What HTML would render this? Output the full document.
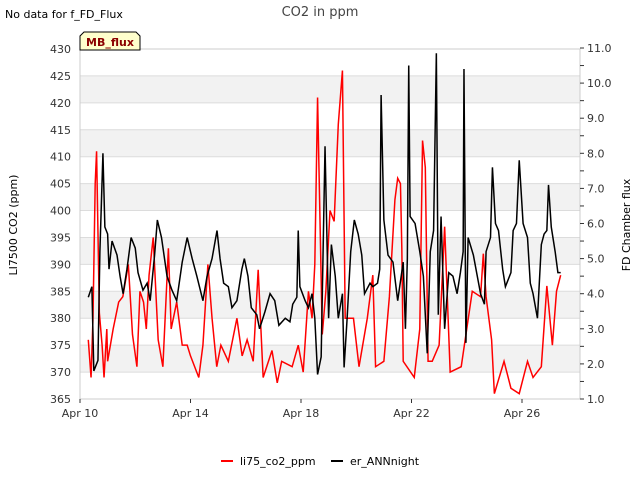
<!DOCTYPE html>
<html><head><meta charset="utf-8"><style>
body{margin:0;background:#fff;font-family:"DejaVu Sans","Liberation Sans",sans-serif;}
svg text{font-family:"DejaVu Sans","Liberation Sans",sans-serif;}
</style></head><body>
<svg id="chart" width="640" height="480" xmlns="http://www.w3.org/2000/svg">
<g id="bands"></g>
<g id="axes"></g>
<g id="series"></g>
<text x="5" y="18" font-size="11" fill="#000">No data for f_FD_Flux</text>
<text x="320" y="16" font-size="13" fill="#444" text-anchor="middle">CO2 in ppm</text>
<g>
<polygon points="80,50 80,36 84,32 136,32 140,36 140,50" fill="#ffffcc" stroke="#000" stroke-width="1"/>
<text x="110" y="46" font-size="11" font-weight="bold" fill="#8b0000" text-anchor="middle">MB_flux</text>
</g>
<text transform="translate(17,225) rotate(-90)" font-size="11" text-anchor="middle">LI7500 CO2 (ppm)</text>
<text transform="translate(630,225) rotate(-90)" font-size="11" text-anchor="middle">FD Chamber flux</text>
<g>
<g><line x1="221" y1="461" x2="233" y2="461" stroke="#ff0000" stroke-width="2"/><text x="240" y="465" font-size="11">li75_co2_ppm</text></g>
<g><line x1="331" y1="461" x2="343" y2="461" stroke="#000" stroke-width="2"/><text x="350" y="465" font-size="11">er_ANNnight</text></g>
</g>
</svg>
<script>
const xTickLabels=["Apr 10","Apr 14","Apr 18","Apr 22","Apr 26"];
const xTickDays=[10,14,18,22,26];
const leftTicks=[365,370,375,380,385,390,395,400,405,410,415,420,425,430];
const rightTicks=[1,2,3,4,5,6,7,8,9,10,11];
const redDays=[10.3,10.4,10.47,10.55,10.6,10.7,10.8,10.87,10.97,11.0,11.2,11.4,11.55,11.75,11.9,12.06,12.17,12.3,12.4,12.5,12.65,12.83,13.0,13.2,13.3,13.5,13.7,13.88,14.0,14.3,14.45,14.63,14.78,14.95,15.1,15.37,15.68,15.87,16.05,16.27,16.45,16.63,16.95,17.14,17.3,17.68,17.9,18.08,18.27,18.4,18.5,18.6,18.77,18.9,19.05,19.2,19.35,19.5,19.6,19.9,20.1,20.4,20.6,20.7,21.0,21.2,21.4,21.5,21.6,21.65,21.7,22.1,22.3,22.4,22.5,22.6,22.75,23.0,23.2,23.4,23.8,24.0,24.2,24.5,24.6,24.7,24.9,25.0,25.35,25.6,25.9,26.2,26.4,26.7,26.9,27.1,27.25,27.4];
const redVals=[376,369,380,405,411,381,375,369,378,372,378,383,384,390,377,371,385,383,378,388,395,376,371,393,378,383,375,375,373,369,375,390,380,371,375,372,380,373,376,372,389,369,374,368,372,371,375,370,385,380,390,421,377,385,400,398,416,426,380,380,371,380,388,371,372,384,402,406,405,393,372,369,378,413,408,372,372,375,397,370,371,378,385,384,392,384,376,366,372,367,366,372,369,371,386,375,385,388];
const blackDays=[10.3,10.43,10.5,10.65,10.72,10.83,10.9,11.0,11.05,11.16,11.34,11.45,11.56,11.7,11.85,12.0,12.1,12.28,12.43,12.54,12.7,12.8,12.95,13.15,13.33,13.5,13.7,13.88,14.06,14.23,14.45,14.6,14.78,14.96,15.07,15.2,15.37,15.5,15.68,15.86,15.95,16.08,16.2,16.4,16.5,16.7,16.88,17.05,17.2,17.43,17.6,17.7,17.85,17.9,17.96,18.15,18.27,18.4,18.5,18.6,18.73,18.87,19.0,19.1,19.24,19.35,19.5,19.56,19.67,19.8,19.93,20.07,20.2,20.3,20.5,20.6,20.77,20.85,20.9,21.0,21.15,21.33,21.5,21.7,21.78,21.85,21.9,21.95,22.13,22.3,22.43,22.57,22.68,22.8,22.9,22.97,23.07,23.2,23.35,23.5,23.65,23.77,23.87,23.9,23.97,24.05,24.24,24.5,24.64,24.7,24.86,24.93,25.04,25.15,25.3,25.4,25.6,25.68,25.8,25.9,26.04,26.2,26.3,26.4,26.56,26.7,26.8,26.9,26.96,27.06,27.2,27.3,27.4];
const blackVals=[3.9,4.2,1.8,2.1,5.2,8.0,5.9,5.7,4.7,5.5,5.1,4.5,4.0,4.7,5.6,5.3,4.6,4.1,4.3,3.8,5.1,6.1,5.6,4.5,4.1,3.8,4.9,5.6,5.0,4.5,3.8,4.5,5.0,5.8,5.0,4.3,4.2,3.6,3.8,4.7,5.0,4.5,3.6,3.4,3.0,3.5,4.0,3.8,3.1,3.3,3.2,3.7,3.9,5.8,4.2,3.8,3.6,4.0,3.3,1.7,2.2,8.2,3.3,5.4,4.5,3.3,4.0,1.9,3.3,5.2,6.1,5.7,5.1,4.0,4.3,4.2,4.3,4.7,9.66,6.1,5.1,4.9,3.8,4.9,3.0,5.0,10.5,6.2,6.0,5.2,4.5,2.3,5.2,5.8,10.85,3.4,6.2,3.0,4.6,4.5,4.0,4.6,5.2,10.4,2.6,5.6,5.1,4.0,3.7,5.2,5.6,7.6,6.0,5.8,4.7,4.2,4.6,5.8,6.0,7.8,6.0,5.6,4.3,4.0,3.3,5.4,5.7,5.8,7.1,5.9,5.2,4.6,4.6];
const NS="http://www.w3.org/2000/svg";
const X0=80,X1=580,YT=49,YB=399;
const xs=d=>X0+(d-10)*(X1-X0)/18.1;
const yl=v=>YB-(v-365)*(YB-YT)/65;
const yr=v=>YB-(v-1)*(YB-48)/10;
function mk(tag,attrs,parent){const e=document.createElementNS(NS,tag);for(const k in attrs)e.setAttribute(k,attrs[k]);parent.appendChild(e);return e;}
const bands=document.getElementById('bands'),axes=document.getElementById('axes'),series=document.getElementById('series');
for(let v=370;v<430;v+=10){const r=mk('rect',{x:X0,y:yl(v+5),width:X1-X0,height:yl(v)-yl(v+5),fill:'#f2f2f2'},bands);

}
leftTicks.forEach(v=>{const l=mk('line',{x1:X0,x2:X1,y1:yl(v),y2:yl(v),stroke:'#dcdcdc','stroke-width':1},bands);


const t=mk('text',{x:X0-9,y:yl(v)+4,'font-size':11,'text-anchor':'end',fill:'#333'},axes);t.textContent=v;

});
mk('rect',{x:X0,y:YT,width:X1-X0,height:YB-YT,fill:'none',stroke:'#ccc'},axes);
rightTicks.forEach(v=>{const t=mk('text',{x:587,y:yr(v)+4,'font-size':11,fill:'#333'},axes);t.textContent=v.toFixed(1);


mk('line',{x1:X1,x2:X1+4,y1:yr(v),y2:yr(v),stroke:'#333'},axes);
if(v<11)mk('line',{x1:X1,x2:X1+4,y1:yr(v+0.5),y2:yr(v+0.5),stroke:'#333'},axes);});
xTickDays.forEach((d,i)=>{mk('line',{x1:xs(d),x2:xs(d),y1:YB,y2:YB+4,stroke:'#333'},axes);
const t=mk('text',{x:xs(d),y:417,'font-size':11,'text-anchor':'middle',fill:'#333'},axes);t.textContent=xTickLabels[i];

});
const rp=mk('polyline',{points:redDays.map((d,i)=>xs(d)+','+yl(redVals[i])).join(' '),fill:'none',stroke:'#ff0000','stroke-width':1.5},series);


const bp=mk('polyline',{points:blackDays.map((d,i)=>xs(d)+','+yr(blackVals[i])).join(' '),fill:'none',stroke:'#000','stroke-width':1.5},series);


</script>
</body></html>
